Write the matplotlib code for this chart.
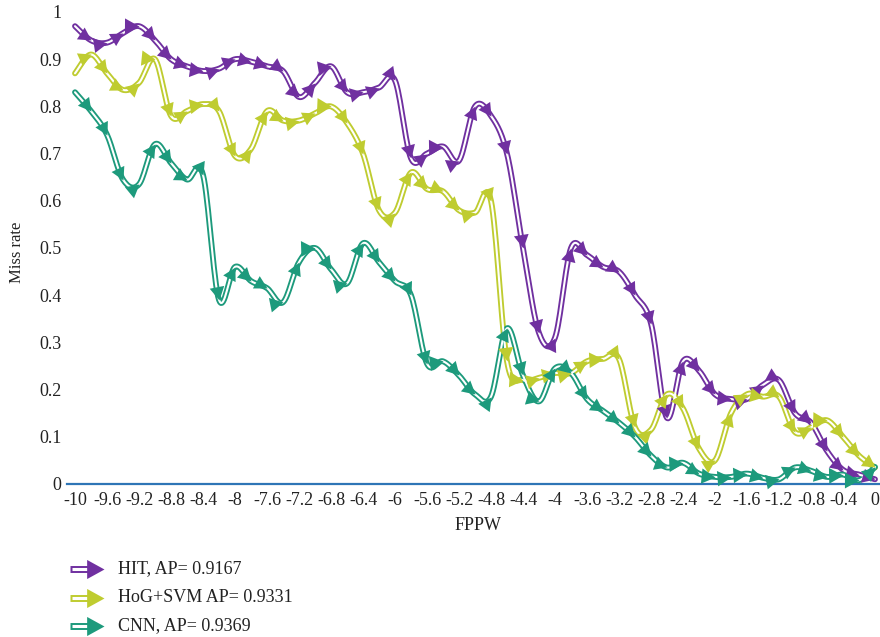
import numpy as np
import matplotlib
matplotlib.use('Agg')
import matplotlib.pyplot as plt
from matplotlib.path import Path
from matplotlib.markers import MarkerStyle

# Dados (FPPW de -10 a 0, passo 0.2)
fppw = [round(-10 + 0.2 * i, 1) for i in range(51)]

hit = [0.97, 0.94, 0.935, 0.955, 0.97, 0.94, 0.90, 0.885, 0.875, 0.88,
       0.90, 0.895, 0.885, 0.875, 0.82, 0.85, 0.885, 0.83, 0.83, 0.84,
       0.855, 0.69, 0.70, 0.715, 0.685, 0.80, 0.78, 0.70, 0.50, 0.32,
       0.31, 0.50, 0.485, 0.46, 0.45, 0.40, 0.34, 0.14, 0.26, 0.24,
       0.19, 0.18, 0.18, 0.21, 0.22, 0.15, 0.13, 0.07, 0.03, 0.02,
       0.01]

hog_svm = [0.87, 0.91, 0.87, 0.835, 0.85, 0.90, 0.78, 0.79, 0.805, 0.79,
           0.695, 0.71, 0.79, 0.77, 0.77, 0.785, 0.80, 0.765, 0.70, 0.58,
           0.575, 0.66, 0.625, 0.62, 0.58, 0.575, 0.60, 0.26, 0.22, 0.225,
           0.235, 0.235, 0.26, 0.265, 0.265, 0.12, 0.115, 0.19, 0.16, 0.075,
           0.05, 0.15, 0.19, 0.185, 0.185, 0.11, 0.12, 0.135, 0.10, 0.06,
           0.035]

cnn = [0.83, 0.79, 0.74, 0.645, 0.635, 0.72, 0.68, 0.645, 0.655, 0.39,
       0.46, 0.43, 0.415, 0.385, 0.47, 0.50, 0.455, 0.425, 0.51, 0.47,
       0.43, 0.40, 0.255, 0.26, 0.23, 0.19, 0.185, 0.33, 0.23, 0.175,
       0.245, 0.235, 0.18, 0.155, 0.13, 0.10, 0.06, 0.035, 0.045, 0.022,
       0.015, 0.015, 0.022, 0.013, 0.01, 0.035, 0.028, 0.015, 0.02, 0.008,
       0.036]

labels = ['HIT, AP= 0.9167', 'HoG+SVM AP= 0.9331', 'CNN, AP= 0.9369']
cores = ['#7030a0', '#bfcc30', '#1d9a7c']
series = [hit, hog_svm, cnn]

xticks = [round(-10 + 0.4 * i, 1) for i in range(26)]
yticks = [0, 0.1, 0.2, 0.3, 0.4, 0.5, 0.6, 0.7, 0.8, 0.9, 1]

fonte = 'Liberation Serif'
plt.rcParams['font.family'] = [fonte, 'DejaVu Serif']


def suavizar(px, py, n=16):
    # curva Catmull-Rom em coordenadas de tela, como linha suavizada do Excel
    p = np.column_stack([px, py])
    p = np.vstack([p[0], p, p[-1]])
    out = []
    t = np.linspace(0, 1, n, endpoint=False)
    for k in range(1, len(p) - 2):
        p0, p1, p2, p3 = p[k - 1], p[k], p[k + 1], p[k + 2]
        tt = t[:, None]
        c = 0.5 * ((2 * p1) + (-p0 + p2) * tt
                   + (2 * p0 - 5 * p1 + 4 * p2 - p3) * tt ** 2
                   + (-p0 + 3 * p1 - 3 * p2 + p3) * tt ** 3)
        out.append(c)
    out.append(p[-2][None, :])
    return np.vstack(out)


def seta(angulo):
    # triângulo com a ponta na origem, girado na direção da curva
    v = np.array([[0, 0], [-1.0, 0.55], [-1.0, -0.55], [0, 0]])
    a = np.deg2rad(angulo)
    r = np.array([[np.cos(a), -np.sin(a)], [np.sin(a), np.cos(a)]])
    v = v @ r.T
    return MarkerStyle(Path(v, [Path.MOVETO, Path.LINETO, Path.LINETO,
                                Path.CLOSEPOLY]))


fig = plt.figure(figsize=(8.8, 6.37), dpi=100)
ax = fig.add_axes([67 / 880, 153 / 637, 812 / 880, 472 / 637])
ax.set_xlim(-10.1, 0.05)
ax.set_ylim(0, 1)

for s in ['top', 'right', 'left']:
    ax.spines[s].set_visible(False)
ax.spines['bottom'].set_color('#2e75b6')
ax.spines['bottom'].set_linewidth(1.6)
ax.spines['bottom'].set_zorder(0)

fig.canvas.draw()
inv = ax.transData.inverted()

for vals, cor in zip(series, cores):
    disp = ax.transData.transform(np.column_stack([fppw, vals]))
    curva = suavizar(disp[:, 0], disp[:, 1])
    dados = inv.transform(curva)
    ax.plot(dados[:, 0], dados[:, 1], color=cor, lw=4.2,
            solid_capstyle='round', zorder=3, clip_on=False)
    ax.plot(dados[:, 0], dados[:, 1], color='white', lw=1.5,
            solid_capstyle='round', zorder=3.1, clip_on=False)
    n = 16
    for i in range(1, len(vals)):
        j = i * n
        d = curva[j] - curva[j - 3]
        ang = np.degrees(np.arctan2(d[1], d[0]))
        ax.plot(fppw[i], vals[i], marker=seta(ang), markersize=21,
                color=cor, markeredgewidth=0, zorder=4, clip_on=False)

ax.set_xticks(xticks)
ax.set_xticklabels(['%g' % v for v in xticks])
ax.set_yticks(yticks)
ax.set_yticklabels(['%g' % v for v in yticks])
ax.tick_params(axis='both', length=0, labelsize=13, colors='#222222')
ax.tick_params(axis='x', pad=5.5)
ax.tick_params(axis='y', pad=4)

fig.text(17 / 880, 1 - 252 / 637, 'Miss rate', rotation=90, fontsize=12,
         ha='center', va='center', color='#222222')
fig.text(478 / 880, 1 - 526 / 637, 'FPPW', fontsize=13, ha='center',
         va='center', color='#222222')

# legenda desenhada à mão
lg = fig.add_axes([0, 0, 1, 1])
lg.set_xlim(0, 880)
lg.set_ylim(637, 0)
lg.axis('off')
for k, (lab, cor) in enumerate(zip(labels, cores)):
    y = 569 + k * 28.5
    lg.plot([70, 88], [y, y], color=cor, lw=5.0, solid_capstyle='butt')
    lg.plot([71.5, 88], [y, y], color='white', lw=2.2, solid_capstyle='butt')
    lg.plot([104], [y], marker=seta(0), markersize=25, color=cor,
            markeredgewidth=0)
    lg.text(118, y, lab, fontsize=13, va='center', ha='left',
            color='#222222')

fig.savefig('out.png', dpi=100)
